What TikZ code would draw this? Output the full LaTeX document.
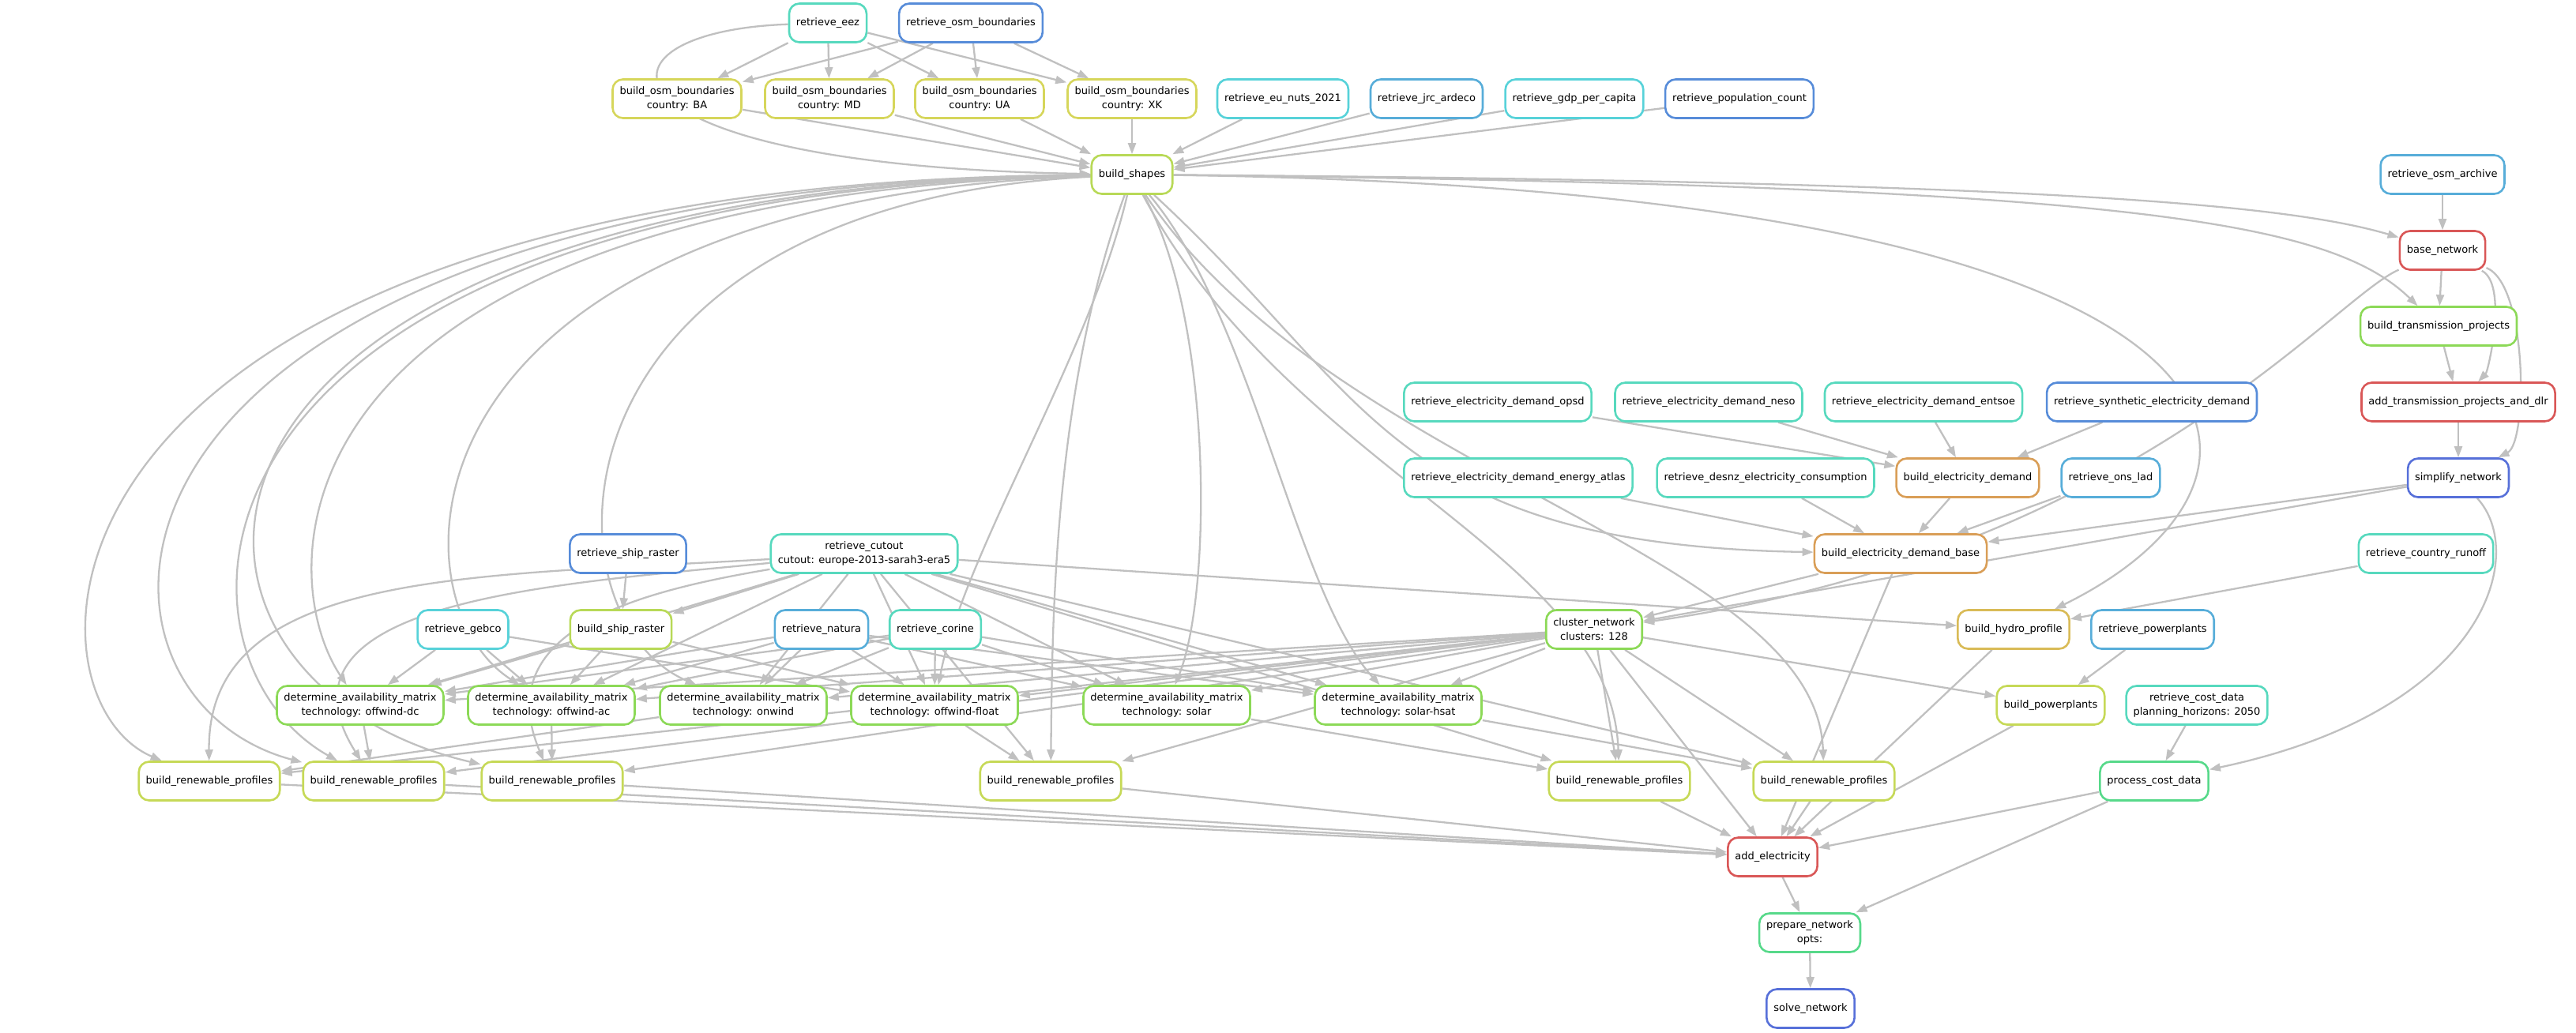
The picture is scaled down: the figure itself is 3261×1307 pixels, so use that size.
\documentclass[tikz,border=0pt]{standalone}
\usepackage{fontspec}
\setmainfont{DejaVu Sans}
\usetikzlibrary{arrows.meta}
\pgfdeclarelayer{bg}
\pgfsetlayers{bg,main}
\definecolor{cT}{HTML}{57D9BE}
\definecolor{cB}{HTML}{578CD9}
\definecolor{cY}{HTML}{D6D65B}
\definecolor{cC}{HTML}{57D2D9}
\definecolor{cLB}{HTML}{57ADD9}
\definecolor{cYG}{HTML}{B8D957}
\definecolor{cR}{HTML}{D95757}
\definecolor{cG}{HTML}{8CD957}
\definecolor{cO}{HTML}{D99E57}
\definecolor{cRB}{HTML}{5770D9}
\definecolor{cGr}{HTML}{57D98A}
\definecolor{cGo}{HTML}{D9BB57}
\definecolor{cBR}{HTML}{C6D957}
\definecolor{edge}{HTML}{C0C0C0}
\tikzset{
  n/.style={draw=#1, rounded corners=13pt, line width=2.6pt, minimum height=49pt,
    inner xsep=9pt, inner ysep=2pt, align=center, fill=white,
    font=\fontsize{13}{18}\selectfont},
  e/.style={draw=edge, line width=2.3pt, -{Triangle[length=14pt,width=10pt]}}
}
\begin{document}
\begin{tikzpicture}[x=1pt,y=-1pt]
\useasboundingbox (0,0) rectangle (3261,1307);
\node[n=cT] (eez) at (1048,29) {retrieve\_eez};
\node[n=cB] (osmb) at (1229,29) {retrieve\_osm\_boundaries};
\node[n=cY] (ba) at (857,125) {build\_osm\_boundaries\\country: BA};
\node[n=cY] (md) at (1050,125) {build\_osm\_boundaries\\country: MD};
\node[n=cY] (ua) at (1240,125) {build\_osm\_boundaries\\country: UA};
\node[n=cY] (xk) at (1433,125) {build\_osm\_boundaries\\country: XK};
\node[n=cC] (nuts) at (1624,125) {retrieve\_eu\_nuts\_2021};
\node[n=cLB] (jrc) at (1806,125) {retrieve\_jrc\_ardeco};
\node[n=cC] (gdp) at (1993,125) {retrieve\_gdp\_per\_capita};
\node[n=cB] (pop) at (2202,125) {retrieve\_population\_count};
\node[n=cYG] (bs) at (1433,221) {build\_shapes};
\node[n=cLB] (arch) at (3092,221) {retrieve\_osm\_archive};
\node[n=cR] (base) at (3092,317) {base\_network};
\node[n=cG] (btp) at (3087,413) {build\_transmission\_projects};
\node[n=cT] (opsd) at (1896,509) {retrieve\_electricity\_demand\_opsd};
\node[n=cT] (neso) at (2163,509) {retrieve\_electricity\_demand\_neso};
\node[n=cT] (entsoe) at (2435,509) {retrieve\_electricity\_demand\_entsoe};
\node[n=cB] (synth) at (2724,509) {retrieve\_synthetic\_electricity\_demand};
\node[n=cR] (atp) at (3112,509) {add\_transmission\_projects\_and\_dlr};
\node[n=cT] (atlas) at (1922,605) {retrieve\_electricity\_demand\_energy\_atlas};
\node[n=cT] (desnz) at (2235,605) {retrieve\_desnz\_electricity\_consumption};
\node[n=cO] (bed) at (2491,605) {build\_electricity\_demand};
\node[n=cLB] (ons) at (2672,605) {retrieve\_ons\_lad};
\node[n=cRB] (simp) at (3112,605) {simplify\_network};
\node[n=cB] (ship) at (795,701) {retrieve\_ship\_raster};
\node[n=cT] (cutout) at (1094,701) {retrieve\_cutout\\cutout: europe-2013-sarah3-era5};
\node[n=cO] (bedb) at (2406,701) {build\_electricity\_demand\_base};
\node[n=cT] (runoff) at (3071,701) {retrieve\_country\_runoff};
\node[n=cC] (gebco) at (586,797) {retrieve\_gebco};
\node[n=cYG] (bsr) at (786,797) {build\_ship\_raster};
\node[n=cLB] (natura) at (1040,797) {retrieve\_natura};
\node[n=cT] (corine) at (1184,797) {retrieve\_corine};
\node[n=cG] (clus) at (2018,797) {cluster\_network\\clusters: 128};
\node[n=cGo] (hydro) at (2549,797) {build\_hydro\_profile};
\node[n=cLB] (rpp) at (2725,797) {retrieve\_powerplants};
\node[n=cG] (dmdc) at (456,893) {determine\_availability\_matrix\\technology: offwind-dc};
\node[n=cG] (dmac) at (698,893) {determine\_availability\_matrix\\technology: offwind-ac};
\node[n=cG] (dmon) at (941,893) {determine\_availability\_matrix\\technology: onwind};
\node[n=cG] (dmfl) at (1183,893) {determine\_availability\_matrix\\technology: offwind-float};
\node[n=cG] (dmso) at (1477,893) {determine\_availability\_matrix\\technology: solar};
\node[n=cG] (dmsh) at (1770,893) {determine\_availability\_matrix\\technology: solar-hsat};
\node[n=cBR] (bpp) at (2596,893) {build\_powerplants};
\node[n=cT] (rcd) at (2781,893) {retrieve\_cost\_data\\planning\_horizons: 2050};
\node[n=cBR] (r1) at (265,989) {build\_renewable\_profiles};
\node[n=cBR] (r2) at (473,989) {build\_renewable\_profiles};
\node[n=cBR] (r3) at (699,989) {build\_renewable\_profiles};
\node[n=cBR] (r4) at (1330,989) {build\_renewable\_profiles};
\node[n=cBR] (r5) at (2050,989) {build\_renewable\_profiles};
\node[n=cBR] (r6) at (2309,989) {build\_renewable\_profiles};
\node[n=cGr] (pcd) at (2727,989) {process\_cost\_data};
\node[n=cR] (ae) at (2244,1085) {add\_electricity};
\node[n=cGr] (prep) at (2291,1181) {prepare\_network\\opts:};
\node[n=cRB] (solve) at (2292,1277) {solve\_network};
\begin{pgfonlayer}{bg}
\foreach \a/\b in {eez/ba,eez/md,eez/ua,eez/xk,osmb/ba,osmb/md,osmb/ua,osmb/xk,
  ba/bs,md/bs,ua/bs,xk/bs,nuts/bs,jrc/bs,gdp/bs,pop/bs,
  arch/base,base/btp,btp/atp,atp/simp,
  opsd/bed,neso/bed,entsoe/bed,synth/bed,
  atlas/bedb,desnz/bedb,bed/bedb,ons/bedb,simp/bedb,
  bedb/clus,bedb/ae,simp/clus,runoff/hydro,cutout/hydro,
  ship/bsr,cutout/bsr,
  bsr/dmdc,bsr/dmac,bsr/dmfl,gebco/dmdc,gebco/dmac,gebco/dmfl,
  natura/dmdc,natura/dmac,natura/dmon,natura/dmfl,natura/dmso,natura/dmsh,
  corine/dmdc,corine/dmac,corine/dmon,corine/dmfl,corine/dmso,corine/dmsh,
  cutout/dmdc,cutout/dmac,cutout/dmon,cutout/dmfl,cutout/dmso,cutout/dmsh,
  clus/dmdc,clus/dmac,clus/dmon,clus/dmfl,clus/dmso,clus/dmsh,
  clus/r1,clus/r2,clus/r3,clus/r4,clus/r5,clus/r6,clus/bpp,clus/ae,
  cutout/r4,cutout/r5,cutout/r6,
  dmon/r1,dmdc/r2,dmac/r3,dmfl/r4,dmso/r5,dmsh/r6,
  rpp/bpp,rcd/pcd,
  r1/ae,r2/ae,r3/ae,r4/ae,r5/ae,r6/ae,hydro/ae,bpp/ae,pcd/ae,pcd/prep,
  ae/prep,prep/solve}
  \draw[e] (\a) -- (\b);
\draw[e] (eez) .. controls (730,40) and (740,210) .. (bs);
\draw[e] (bs) .. controls (10,230) and (10,880) .. (r1);
\draw[e] (bs) .. controls (60,235) and (60,880) .. (r2);
\draw[e] (bs) .. controls (140,240) and (150,860) .. (r3);
\draw[e] (bs) .. controls (190,245) and (190,830) .. (r2);
\draw[e] (bs) .. controls (340,250) and (340,720) .. (dmdc);
\draw[e] (bs) .. controls (490,255) and (490,760) .. (dmac);
\draw[e] (bs) .. controls (680,260) and (680,780) .. (dmon);
\draw[e] (bs) .. controls (1380,450) and (1220,700) .. (dmfl);
\draw[e] (bs) .. controls (1332,500) and (1332,800) .. (r4);
\draw[e] (bs) .. controls (1535,400) and (1535,750) .. (dmso);
\draw[e] (bs) .. controls (1585,400) and (1640,750) .. (dmsh);
\draw[e] (bs) .. controls (1636,600) and (2040,700) .. (r5);
\draw[e] (bs) .. controls (1686,600) and (2300,700) .. (r6);
\draw[e] (bs) .. controls (1736,500) and (1760,690) .. (bedb);
\draw[e] (bs) .. controls (2900,240) and (2948,600) .. (hydro);
\draw[e] (bs) .. controls (2600,230) and (2900,260) .. (base);
\draw[e] (bs) .. controls (2700,235) and (2950,280) .. (btp);
\draw[e] (base) .. controls (3200,360) and (3200,560) .. (simp);
\draw[e] (base) .. controls (3175,360) and (3150,470) .. (atp);
\draw[e] (base) .. controls (2950,380) and (2700,700) .. (clus);
\draw[e] (simp) .. controls (3200,700) and (3150,900) .. (pcd);
\draw[e] (cutout) .. controls (600,730) and (262,720) .. (r1);
\draw[e] (cutout) .. controls (700,740) and (330,760) .. (r2);
\draw[e] (cutout) .. controls (800,750) and (620,800) .. (r3);
\end{pgfonlayer}
\end{tikzpicture}
\end{document}
